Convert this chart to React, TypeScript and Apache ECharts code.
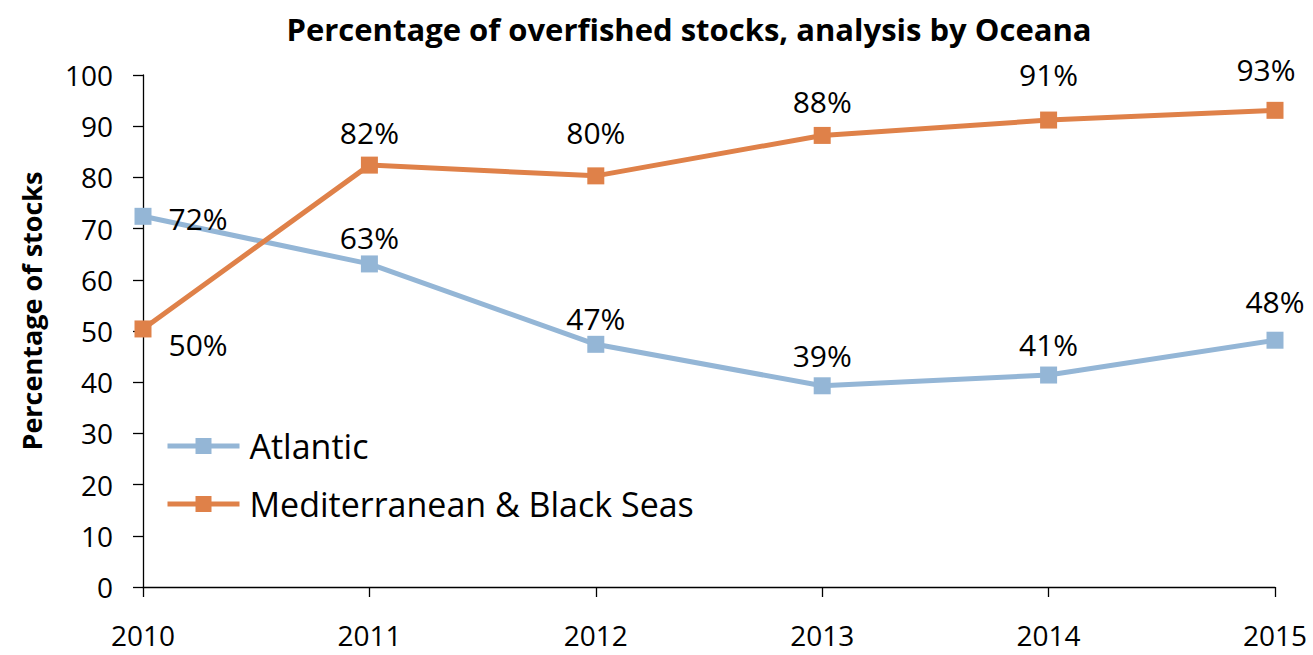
import React, { useEffect, useRef } from "react";
import * as echarts from "echarts";

const years = ["2010", "2011", "2012", "2013", "2014", "2015"];
const atlantic = [72.4, 63.1, 47.4, 39.3, 41.4, 48.2];
const mediterranean = [50.4, 82.4, 80.3, 88.2, 91.2, 93.1];
const seriesNames = ["Atlantic", "Mediterranean & Black Seas"];
const titleText = "Percentage of overfished stocks, analysis by Oceana";
const yAxisTitle = "Percentage of stocks";

// label placement nudges (style, not data)
const atlLabelPos = ["right", "top", "top", "top", "top", "top"];
const atlLabelDx = [0, 0, 0, 0, 0, 0];
const atlLabelDy = [2, 7, 8, 3, 3, -5];
const medLabelPos = ["right", "top", "top", "top", "top", "top"];
const medLabelDx = [0, 0, 0, 0, 0, -9];
const medLabelDy = [16, 1, -10, 0, -12, -7];

const FONT = "'Open Sans', Lato, sans-serif";
const ATL = "#94B6D6";
const MED = "#DF8149";

function buildData(values: number[], pos: string[], dx: number[], dy: number[]) {
  return values.map((v, i) => ({
    value: v,
    label: {
      position: pos[i],
      distance: pos[i] === "right" ? 17 : 10,
      offset: [dx[i], dy[i]],
    },
  }));
}

export default function App() {
  const ref = useRef<HTMLDivElement>(null);
  useEffect(() => {
    if (!ref.current) return;
    const chart = echarts.init(ref.current, undefined, { renderer: "svg" });
    const labelCommon = {
      show: true,
      fontFamily: FONT,
      fontSize: 30,
      lineHeight: 30,
      color: "#000",
      formatter: (p: any) => Math.round(p.value) + "%",
    };
    chart.setOption({
      animation: false,
      backgroundColor: "#fff",
      title: {
        text: titleText,
        left: 684,
        textAlign: "center",
        top: 8,
        textStyle: { fontFamily: FONT, fontSize: 31, fontWeight: "bold", color: "#000" },
      },
      grid: { left: 143, right: 38, top: 75, bottom: 68, containLabel: false },
      legend: {
        orient: "vertical",
        left: 165,
        top: 426,
        padding: 0,
        itemWidth: 72,
        itemHeight: 20,
        itemGap: 18,
        lineStyle: { width: 5 },
        textStyle: { fontFamily: FONT, fontSize: 34, lineHeight: 40, color: "#000", padding: [0, 0, 0, 5] },
        data: seriesNames,
      },
      xAxis: {
        type: "category",
        data: years,
        boundaryGap: false,
        axisLine: { lineStyle: { color: "#000", width: 1.3 } },
        axisTick: { show: true, length: 10, lineStyle: { color: "#000", width: 1.3 } },
        axisLabel: { fontFamily: FONT, fontSize: 28, lineHeight: 28, color: "#000", margin: 34 },
        splitLine: { show: false },
      },
      yAxis: {
        type: "value",
        min: 0,
        max: 100,
        interval: 10,
        axisLine: { show: true, lineStyle: { color: "#000", width: 1.3 } },
        axisTick: { show: true, length: 10, lineStyle: { color: "#000", width: 1.3 } },
        axisLabel: { fontFamily: FONT, fontSize: 28, color: "#000", margin: 30 },
        splitLine: { show: false },
      },
      graphic: [
        {
          type: "text",
          x: 31,
          y: 311,
          rotation: Math.PI / 2,
          style: {
            text: yAxisTitle,
            fontFamily: FONT,
            fontSize: 27,
            fontWeight: "bold",
            fill: "#000",
            align: "center",
            verticalAlign: "middle",
          },
        },
      ],
      series: [
        {
          name: seriesNames[0],
          type: "line",
          data: buildData(atlantic, atlLabelPos, atlLabelDx, atlLabelDy),
          symbol: "rect",
          symbolSize: 17,
          lineStyle: { color: ATL, width: 5 },
          itemStyle: { color: ATL },
          label: labelCommon,
          z: 3,
        },
        {
          name: seriesNames[1],
          type: "line",
          data: buildData(mediterranean, medLabelPos, medLabelDx, medLabelDy),
          symbol: "rect",
          symbolSize: 17,
          lineStyle: { color: MED, width: 5 },
          itemStyle: { color: MED },
          label: labelCommon,
          z: 4,
        },
      ],
    });
    return () => chart.dispose();
  }, []);
  return (
    <div
      ref={ref}
      style={{ position: "fixed", left: 0, top: 0, width: 1313, height: 655 }}
    />
  );
}
